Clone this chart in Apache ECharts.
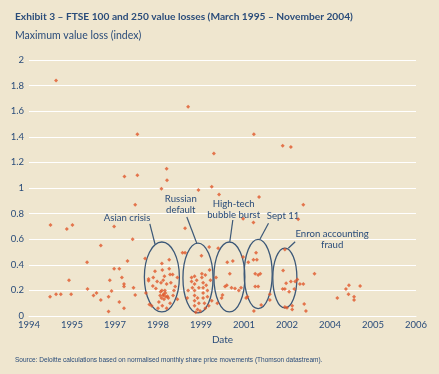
<!DOCTYPE html>
<html>
<head>
<meta charset="utf-8">
<script src="https://cdn.jsdelivr.net/npm/echarts@6/dist/echarts.min.js"></script>
<style>
html,body{margin:0;padding:0;background:#efe6cf;}
#chart{width:439px;height:374px;}
</style>
</head>
<body>
<div id="chart"></div>
<script>
// x positions are in axis-tick units (0 = first tick "1994", 9 = last tick "2006")
const xTickLabels = ['1994','1995','1997','1998','1999','2001','2002','2004','2005','2006'];
const yTicks = [0,0.2,0.4,0.6,0.8,1,1.2,1.4,1.6,1.8,2];

const pointX = [
  0.50,0.88,1.01,1.67,1.35,0.93,1.36,0.49,0.63,0.74,0.98,1.50,1.57,1.67,1.85,1.85,0.63,
  1.98,2.47,2.41,1.98,2.10,2.29,1.88,2.16,2.21,2.21,2.43,2.47,1.92,2.10,2.21,2.70,2.78,2.78,2.72,2.80,
  2.22,2.52,2.52,
  3.09,3.26,3.26,2.93,2.89,3.15,3.28,3.34,3.12,3.07,3.20,3.30,2.88,2.95,3.09,3.16,3.37,3.05,3.12,3.18,
  3.08,3.14,3.22,3.02,3.28,3.10,3.00,3.20,2.85,3.13,3.17,3.06,3.24,3.35,3.45,3.45,3.40,3.10,2.98,
  3.20,3.21,3.08,3.63,3.63,3.70,3.94,4.25,4.30,4.01,4.19,4.42,3.57,
  3.78,3.78,3.80,3.85,3.85,3.85,3.85,3.85,3.85,3.90,3.92,3.92,3.95,3.95,4.02,4.02,4.05,4.05,4.05,4.05,
  4.08,4.10,4.10,4.12,4.15,4.15,4.20,4.22,4.25,3.98,3.88,4.18,3.70,3.68,
  4.61,4.74,4.67,4.60,4.56,4.71,4.79,4.50,4.48,4.40,4.98,4.98,4.88,4.93,4.35,4.38,
  5.10,5.22,5.28,5.30,5.26,5.33,5.38,5.26,5.33,5.05,5.08,5.40,5.60,5.60,5.35,5.23,5.22,5.23,
  5.91,5.95,5.98,6.09,6.19,6.24,6.30,6.38,5.90,5.95,6.05,6.17,5.95,6.00,6.12,6.12,6.26,6.38,6.64,6.40,6.44,5.90,6.09,
  7.17,7.37,7.44,7.43,7.56,7.56,7.70
];
const pointY = [
  0.71,0.68,0.71,0.55,0.42,0.28,0.21,0.15,0.17,0.17,0.17,0.16,0.18,0.125,0.15,0.035,1.84,
  0.70,0.87,0.60,0.37,0.37,0.43,0.28,0.30,0.25,0.23,0.22,0.165,0.195,0.11,0.06,0.45,0.29,0.275,0.18,0.09,
  1.09,1.10,1.42,
  0.41,0.44,0.37,0.35,0.30,0.31,0.325,0.325,0.28,0.26,0.25,0.26,0.235,0.215,0.20,0.20,0.20,0.16,0.16,0.15,
  0.14,0.13,0.155,0.11,0.10,0.08,0.06,0.06,0.08,0.17,0.18,0.19,0.14,0.16,0.30,0.13,0.23,0.36,0.27,
  1.15,1.06,0.995,0.685,0.495,1.635,0.985,1.01,1.27,0.47,0.54,0.95,0.495,
  0.30,0.27,0.22,0.31,0.25,0.20,0.16,0.12,0.08,0.28,0.14,0.05,0.22,0.10,0.33,0.30,0.26,0.22,0.18,0.14,
  0.10,0.06,0.32,0.24,0.20,0.15,0.36,0.28,0.12,0.04,0.03,0.08,0.20,0.14,
  0.42,0.43,0.33,0.24,0.23,0.22,0.215,0.165,0.14,0.53,0.46,0.76,0.20,0.22,0.30,0.10,
  0.42,0.44,0.495,0.44,0.33,0.32,0.33,0.23,0.23,0.14,0.15,0.086,0.17,0.125,0.93,1.42,0.73,0.04,
  0.355,0.52,0.255,0.27,0.27,0.285,0.25,0.25,0.21,0.21,0.19,0.21,0.07,0.065,0.08,0.05,0.755,0.87,0.33,0.094,0.04,1.33,1.32,
  0.14,0.21,0.24,0.17,0.15,0.125,0.235
];

// event annotations
const eventNames = ['Asian crisis','Russian\ndefault','High-tech\nbubble burst','Sept 11','Enron accounting\nfraud'];
const ellipseX  = [3.09, 3.93, 4.66, 5.33, 5.95];
const ellipseY  = [0.305,0.297,0.305,0.328,0.297];
const ellipseRx = [0.407,0.35, 0.36, 0.326,0.28];
const ellipseRy = [0.273,0.273,0.273,0.27, 0.234];
const labelX    = [2.28, 3.53, 4.76, 5.91, 7.05];
const labelY    = [0.766,0.871,0.836,0.781,0.597];
const leaderFromX = [2.81, 3.67, 4.74, 5.57, 6.19];
const leaderFromY = [0.719,0.773,0.75, 0.724,0.580];
const leaderToX   = [2.93, 3.90, 4.67, 5.37, 6.03];
const leaderToY   = [0.5625,0.570,0.580,0.599,0.529];

const TXT = '#2a4c7a';
const FONT = 'Lato, "Open Sans", sans-serif';

const points = pointX.map((x, i) => [x, pointY[i]]);
const events = eventNames.map((n, i) => [ellipseX[i], ellipseY[i], ellipseRx[i], ellipseRy[i],
  labelX[i], labelY[i], leaderFromX[i], leaderFromY[i], leaderToX[i], leaderToY[i], i]);

const chart = echarts.init(document.getElementById('chart'), null, {renderer: 'canvas'});
chart.setOption({
  backgroundColor: '#efe6cf',
  animation: false,
  textStyle: {fontFamily: FONT},
  title: [
    {text: 'Exhibit 3 – FTSE 100 and 250 value losses (March 1995 – November 2004)', left: 10, top: 7,
     textStyle: {fontSize: 10.2, fontWeight: 'bold', color: TXT, fontFamily: FONT}},
    {text: 'Maximum value loss (index)', left: 10, top: 25,
     textStyle: {fontSize: 10.5, fontWeight: 'normal', color: TXT, fontFamily: FONT}},
    {text: 'Source: Deloitte calculations based on normalised monthly share price movements (Thomson datastream).',
     left: 10, top: 352, textStyle: {fontSize: 6.5, fontWeight: 'normal', color: TXT, fontFamily: '"Liberation Sans Narrow", "Liberation Sans", sans-serif'}}
  ],
  grid: {left: 29, right: 23, top: 60, bottom: 58, containLabel: false, outerBoundsMode: 'none'},
  xAxis: {
    type: 'value', min: 0, max: 9, interval: 1,
    name: 'Date', nameLocation: 'middle', nameGap: 19,
    nameTextStyle: {fontSize: 10, color: TXT, fontFamily: FONT},
    axisLine: {show: true, lineStyle: {color: '#ffffff', width: 1}},
    axisTick: {show: false},
    splitLine: {show: false},
    axisLabel: {color: TXT, fontSize: 9.5, margin: 4,
      formatter: v => xTickLabels[Math.round(v)] || ''}
  },
  yAxis: {
    type: 'value', min: 0, max: 2, interval: 0.2,
    axisLine: {show: false}, axisTick: {show: false},
    splitLine: {show: true, lineStyle: {color: '#ffffff', width: 1}},
    axisLabel: {color: TXT, fontSize: 9.5, margin: 5,
      formatter: v => { const t = yTicks.find(k => Math.abs(k - v) < 1e-6); return t === undefined ? '' : String(t); }}
  },
  series: [
    {
      type: 'custom', z: 2, clip: false,
      data: events,
      renderItem: (params, api) => {
        const c = api.coord([api.value(0), api.value(1)]);
        const s = api.size([api.value(2), api.value(3)]);
        const l = api.coord([api.value(4), api.value(5)]);
        const a = api.coord([api.value(6), api.value(7)]);
        const b = api.coord([api.value(8), api.value(9)]);
        const name = eventNames[api.value(10)];
        return {type: 'group', children: [
          {type: 'ellipse', shape: {cx: c[0], cy: c[1], rx: s[0], ry: s[1]},
           style: {fill: 'none', stroke: '#3c5878', lineWidth: 1.3}},
          {type: 'line', shape: {x1: a[0], y1: a[1], x2: b[0], y2: b[1]},
           style: {stroke: '#3c5878', lineWidth: 1.2}},
          {type: 'text', x: l[0], y: l[1],
           style: {text: name, fill: TXT, fontSize: 9.6, fontFamily: FONT, lineHeight: 11,
                   align: 'center', verticalAlign: 'middle'}}
        ]};
      }
    },
    {
      type: 'scatter', z: 3,
      symbol: 'diamond', symbolSize: 4,
      itemStyle: {color: '#e0582b'},
      data: points
    }
  ]
});
</script>
</body>
</html>
